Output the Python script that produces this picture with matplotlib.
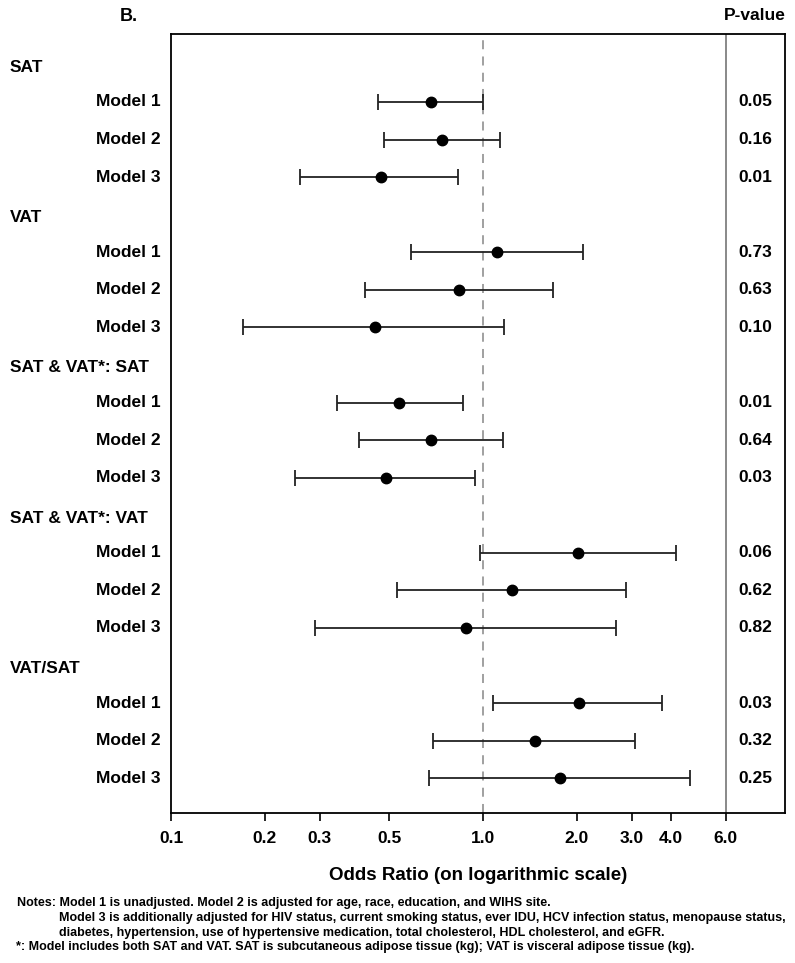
import matplotlib
matplotlib.use("Agg")
import matplotlib.pyplot as plt
import matplotlib.transforms as mtransforms

plt.rcParams['font.family'] = ['Liberation Sans', 'DejaVu Sans']
plt.rcParams['font.weight'] = 'bold'

# groups and rows (header + 3 models each)
groups = ['SAT', 'VAT', 'SAT & VAT*: SAT', 'SAT & VAT*: VAT', 'VAT/SAT']
models = ['Model 1', 'Model 2', 'Model 3']

# odds ratios and 95% CI
odds = [0.68, 0.74, 0.47,
        1.11, 0.84, 0.45,
        0.54, 0.68, 0.49,
        2.01, 1.24, 0.88,
        2.03, 1.47, 1.76]
ci_low = [0.46, 0.48, 0.26,
          0.59, 0.42, 0.17,
          0.34, 0.40, 0.25,
          0.98, 0.53, 0.29,
          1.08, 0.69, 0.67]
ci_high = [1.00, 1.13, 0.83,
           2.09, 1.68, 1.17,
           0.86, 1.16, 0.94,
           4.15, 2.87, 2.66,
           3.74, 3.08, 4.62]
pvalues = ['0.05', '0.16', '0.01',
           '0.73', '0.63', '0.10',
           '0.01', '0.64', '0.03',
           '0.06', '0.62', '0.82',
           '0.03', '0.32', '0.25']

xticks = [0.1, 0.2, 0.3, 0.5, 1.0, 2.0, 3.0, 4.0, 6.0]
xticklabels = ['0.1', '0.2', '0.3', '0.5', '1.0', '2.0', '3.0', '4.0', '6.0']

notes = ['Notes: Model 1 is unadjusted. Model 2 is adjusted for age, race, education, and WIHS site.',
         'Model 3 is additionally adjusted for HIV status, current smoking status, ever IDU, HCV infection status, menopause status,',
         'diabetes, hypertension, use of hypertensive medication, total cholesterol, HDL cholesterol, and eGFR.',
         '*: Model includes both SAT and VAT. SAT is subcutaneous adipose tissue (kg); VAT is visceral adipose tissue (kg).']

W, H = 795, 963
fig = plt.figure(figsize=(W / 100, H / 100), dpi=100)
ax = fig.add_axes([171 / W, 1 - 812.7 / H, (785 - 171) / W, (812.7 - 34) / H])

# y positions: each group takes 4 rows
header_y = []
row_y = []
for g in range(len(groups)):
    header_y.append(g * 4)
    for m in range(len(models)):
        row_y.append(g * 4 + m + 1)

ax.set_xscale('log')
ax.set_xlim(0.1, 9.29)
ax.set_ylim(19.92, -0.81)

ax.axvline(1.0, color='#999999', lw=1.3, ls=(0, (5, 4)), zorder=1)
ax.axvline(6.0, color='#808080', lw=1.3, zorder=1)

xerr = [[o - l for o, l in zip(odds, ci_low)], [h - o for o, h in zip(odds, ci_high)]]
ax.errorbar(odds, row_y, xerr=xerr, fmt='o', color='black', ecolor='#222222',
            elinewidth=1.3, capsize=5.5, capthick=1.3, markersize=7.5, zorder=3)

# p-values in the right strip
for y, p in zip(row_y, pvalues):
    ax.text(0.951, y, p, transform=ax.get_yaxis_transform(), ha='center', va='center',
            fontsize=12.5, fontweight='bold')

# row labels to the left of the box
lab_tr = mtransforms.blended_transform_factory(fig.transFigure, ax.transData)
for y, g in zip(header_y, groups):
    ax.text(10 / W, y + 0.08, g, transform=lab_tr, ha='left', va='center',
            fontsize=12.5, fontweight='bold', clip_on=False)
for i, y in enumerate(row_y):
    ax.text(161 / W, y, models[i % 3], transform=lab_tr, ha='right', va='center',
            fontsize=12.5, fontweight='bold', clip_on=False)

ax.set_yticks([])
ax.minorticks_off()
ax.set_xticks(xticks)
ax.set_xticklabels(xticklabels)
ax.tick_params(axis='x', which='major', length=6, width=1.2, pad=7, labelsize=12.5)
ax.tick_params(axis='x', which='minor', length=0)
for lbl in ax.get_xticklabels():
    lbl.set_fontweight('bold')
for s in ax.spines.values():
    s.set_linewidth(1.3)
ax.set_xlabel('Odds Ratio (on logarithmic scale)', fontsize=13.5, fontweight='bold', labelpad=15)

fig.text(120 / W, 1 - 16.5 / H, 'B.', fontsize=13, fontweight='bold', ha='left', va='center')
fig.text(786 / W, 1 - 15 / H, 'P-value', fontsize=12.5, fontweight='bold', ha='right', va='center')

notes_x = [17, 59, 59, 16]
notes_y = [903, 918, 933, 947]
for nx, ny, line in zip(notes_x, notes_y, notes):
    fig.text(nx / W, 1 - ny / H, line, fontsize=9, fontweight='bold', va='center')

fig.savefig('out.png', dpi=100)
